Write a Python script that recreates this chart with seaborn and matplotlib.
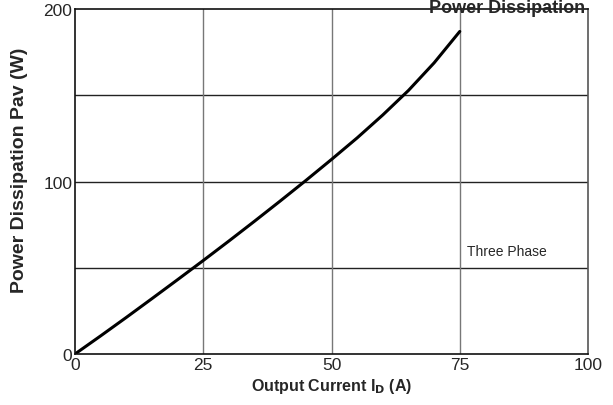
import matplotlib
matplotlib.use("Agg")
import matplotlib.pyplot as plt
import seaborn as sns
import pandas as pd

# --- data ---
current_a = [0, 5, 10, 15, 20, 25, 30, 35, 40, 45, 50, 55, 60, 65, 70, 75]
power_w = [0, 10.5, 21.2, 32.1, 43.1, 54.2, 65.5, 77.0, 88.7, 100.6,
           112.8, 125.3, 138.6, 152.8, 168.8, 187.0]
x_ticks = [0, 25, 50, 75, 100]
y_ticks = [0, 50, 100, 150, 200]
y_tick_labels = ["0", "", "100", "", "200"]

df = pd.DataFrame({"current": current_a, "power": power_w})

sns.set_style("white")
plt.rcParams["font.family"] = ["Liberation Sans", "DejaVu Sans"]

fig = plt.figure(figsize=(6.13, 4.06), dpi=100)
ax = fig.add_axes([0.1223, 0.1256, 0.8370, 0.8497])

sns.lineplot(data=df, x="current", y="power", color="black", linewidth=2.2, ax=ax)

ax.set_xlim(0, 100)
ax.set_ylim(0, 200)
ax.set_xticks(x_ticks)
ax.set_yticks(y_ticks)
ax.set_xticklabels([str(t) for t in x_ticks], fontsize=12.5)
ax.set_yticklabels(y_tick_labels, fontsize=12.5)
ax.tick_params(length=0, pad=2)

# grid: horizontal dark, vertical grey
for y in y_ticks[1:-1]:
    ax.axhline(y, color="#222222", linewidth=1.0, zorder=0)
for x in x_ticks[1:-1]:
    ax.axvline(x, color="#777777", linewidth=1.0, zorder=0)

for side in ["left", "bottom", "top"]:
    ax.spines[side].set_color("#111111")
    ax.spines[side].set_linewidth(1.2)
ax.spines["right"].set_color("#555555")
ax.spines["right"].set_linewidth(1.2)

ax.set_xlabel("Output Current I$_{\\mathbf{D}}$ (A)", fontsize=11.5, fontweight="bold", labelpad=3)
ax.set_ylabel("Power Dissipation Pav (W)", fontsize=14, fontweight="bold")
ax.yaxis.set_label_coords(-0.092, 0.535)

ax.text(76.5, 60, "Three Phase", fontsize=10, va="center", ha="left")

fig.text(0.955, 0.999, "Power Dissipation", fontsize=13, fontweight="bold",
         ha="right", va="top")

fig.savefig("out.png", dpi=100)
